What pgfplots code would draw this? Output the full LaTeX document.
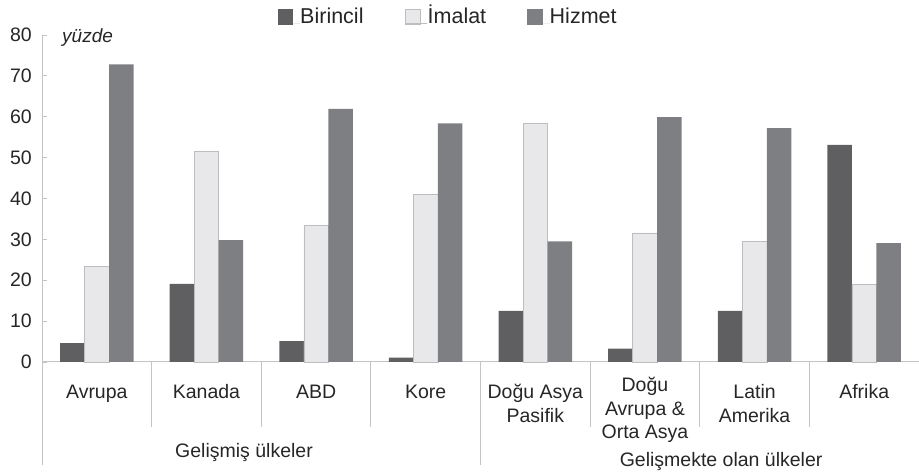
\documentclass[border=0pt]{standalone}
\usepackage{pgfplots}
\pgfplotsset{compat=1.18}
\usepackage{fontspec}
\setmainfont{Liberation Sans}
\definecolor{cBir}{HTML}{5F5F61}
\definecolor{cIma}{HTML}{E8E8EA}
\definecolor{cImaB}{HTML}{BDBDBF}
\definecolor{cHiz}{HTML}{7E7F82}
\definecolor{cAx}{HTML}{C4C4C4}
\begin{document}
\begin{tikzpicture}
\begin{axis}[
  scale only axis, width=877pt, height=327pt,
  xmin=-0.5, xmax=7.5, ymin=0, ymax=80,
  ytick={0,10,...,80}, xtick=\empty,
  axis x line*=bottom, axis y line*=left,
  axis line style={draw=cAx, line width=1pt},
  y axis line style={line width=0.8pt},
  tick align=inside, major tick length=5pt,
  ytick style={draw=cAx, line width=0.8pt},
  /pgf/number format/assume math mode=true,
  ticklabel style={font=\fontsize{19.5}{22}\selectfont, text=black!85},
  yticklabel style={inner sep=0pt, anchor=east, xshift=-10pt},
  ybar=0pt, bar width=0.2233,
  clip=false,
  legend style={at={(rel axis cs:0.462,1.052)}, anchor=center, draw=none,
    font=\fontsize{21.5}{24}\selectfont, text=black!85, inner sep=0pt,
    nodes={inner xsep=0pt, inner ysep=0pt, text height=15pt, text depth=4pt, anchor=base west},
    /tikz/every even column/.append style={column sep=41pt}},
  legend columns=3,
]
\addplot[fill=cBir, draw=none,
  legend image code/.code={\fill[cBir] (0pt,-1.5pt) rectangle (15.5pt,14pt); \path (0pt,0pt) -- (22.5pt,0pt);}]
  coordinates {(0,4.6) (1,19.1) (2,5.1) (3,1.1) (4,12.5) (5,3.3) (6,12.5) (7,53.1)};
\addplot[fill=cIma, draw=cImaB, line width=0.6pt,
  legend image code/.code={\filldraw[fill=cIma, draw=cImaB, line width=0.6pt] (0.3pt,-1.2pt) rectangle (15.2pt,13.7pt); \path (0pt,0pt) -- (22.5pt,0pt);}]
  coordinates {(0,23.4) (1,51.6) (2,33.5) (3,41.0) (4,58.4) (5,31.6) (6,29.5) (7,19.0)};
\addplot[fill=cHiz, draw=none,
  legend image code/.code={\fill[cHiz] (0pt,-1.5pt) rectangle (15.5pt,14pt); \path (0pt,0pt) -- (22.5pt,0pt);}]
  coordinates {(0,72.8) (1,29.8) (2,61.9) (3,58.4) (4,29.5) (5,59.9) (6,57.2) (7,29.1)};
\legend{Birincil, İmalat, Hizmet}
\coordinate (O) at (axis cs:-0.5,0);
% separators
\draw[cAx, line width=0.8pt] (axis cs:0.5,0) -- ++(0pt,-65pt);
\draw[cAx, line width=0.8pt] (axis cs:1.5,0) -- ++(0pt,-65pt);
\draw[cAx, line width=0.8pt] (axis cs:2.5,0) -- ++(0pt,-65pt);
\draw[cAx, line width=0.8pt] (axis cs:4.5,0) -- ++(0pt,-65pt);
\draw[cAx, line width=0.8pt] (axis cs:5.5,0) -- ++(0pt,-65pt);
\draw[cAx, line width=0.8pt] (axis cs:6.5,0) -- ++(0pt,-65pt);
\draw[cAx, line width=0.8pt] (axis cs:-0.5,0) -- ++(0pt,-103pt);
\draw[cAx, line width=0.8pt] (axis cs:3.5,0) -- ++(0pt,-103pt);
% category labels
\tikzset{catlab/.style={anchor=base, inner sep=0pt,
  font=\fontsize{19.5}{24}\selectfont, text=black!85}}
\node[catlab] at ([yshift=-37pt]axis cs:0,0) {Avrupa};
\node[catlab] at ([yshift=-37pt]axis cs:1,0) {Kanada};
\node[catlab] at ([yshift=-37pt]axis cs:2,0) {ABD};
\node[catlab] at ([yshift=-37pt]axis cs:3,0) {Kore};
\node[catlab] at ([yshift=-37pt]axis cs:4,0) {Doğu Asya};
\node[catlab] at ([yshift=-61pt]axis cs:4,0) {Pasifik};
\node[catlab] at ([yshift=-30pt]axis cs:5,0) {Doğu};
\node[catlab] at ([yshift=-53.5pt]axis cs:5,0) {Avrupa \&};
\node[catlab] at ([yshift=-77pt]axis cs:5,0) {Orta Asya};
\node[catlab] at ([yshift=-37pt]axis cs:6,0) {Latin};
\node[catlab] at ([yshift=-61pt]axis cs:6,0) {Amerika};
\node[catlab] at ([yshift=-37pt]axis cs:7,0) {Afrika};
\node[catlab] at ([yshift=-96pt]axis cs:1.343,0) {Gelişmiş ülkeler};
\node[catlab] at ([yshift=-105pt]axis cs:5.695,0) {Gelişmekte olan ülkeler};
\node[anchor=base west, inner sep=0pt, font=\itshape\fontsize{19}{22}\selectfont, text=black!85]
  at ([xshift=20pt, yshift=-7pt]axis cs:-0.5,80) {yüzde};
\end{axis}
\pgfresetboundingbox
\path ([xshift=-42pt, yshift=-111pt]O) rectangle ([xshift=877pt, yshift=362pt]O);
\end{tikzpicture}
\end{document}
